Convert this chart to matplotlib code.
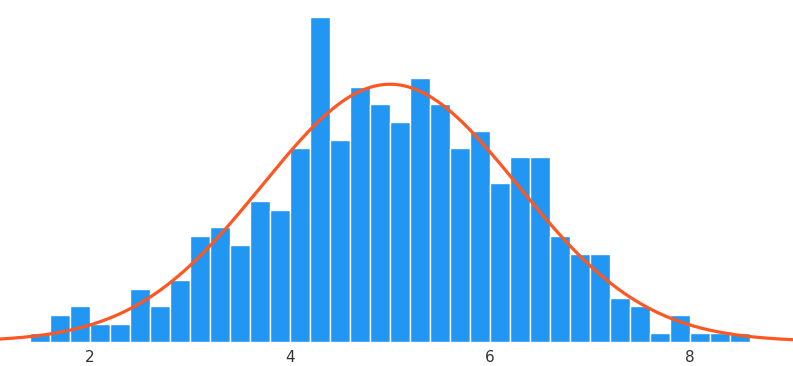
import numpy as np
import matplotlib.pyplot as plt

# histogram counts, bins of width 0.2 starting at 1.4
bin_start = 1.4
bin_width = 0.2
counts = [1, 3, 4, 2, 2, 6, 4, 7, 12, 13, 11, 16, 15, 22, 37, 23, 29, 27,
          25, 30, 27, 22, 24, 18, 21, 21, 12, 10, 10, 5, 4, 1, 3, 1, 1, 1]

# fitted normal curve
mu = 5.0
sigma = 1.28
peak = 29.3

tick_vals = [2, 4, 6, 8]

edges = bin_start + bin_width * np.arange(len(counts))

fig = plt.figure(figsize=(7.93, 3.66), dpi=100)
ax = fig.add_axes([0, 24.5 / 366, 1, 341.5 / 366])

ax.bar(edges, counts, width=bin_width, align='edge', color='#2196F3',
       edgecolor='white', linewidth=1)

xs = np.linspace(1.1, 9.03, 400)
ax.plot(xs, peak * np.exp(-0.5 * ((xs - mu) / sigma) ** 2),
        color='#FF5722', linewidth=2.3, zorder=3)

ax.set_xlim(1.1, 9.03)
ax.set_ylim(0, 341.5 / 8.78)
ax.set_xticks(tick_vals)
ax.set_xticklabels([str(t) for t in tick_vals])
ax.tick_params(axis='x', length=0, pad=6, labelsize=11, labelcolor='#333333')
ax.set_yticks([])
for s in ax.spines.values():
    s.set_visible(False)

fig.savefig('out.png', dpi=100)
